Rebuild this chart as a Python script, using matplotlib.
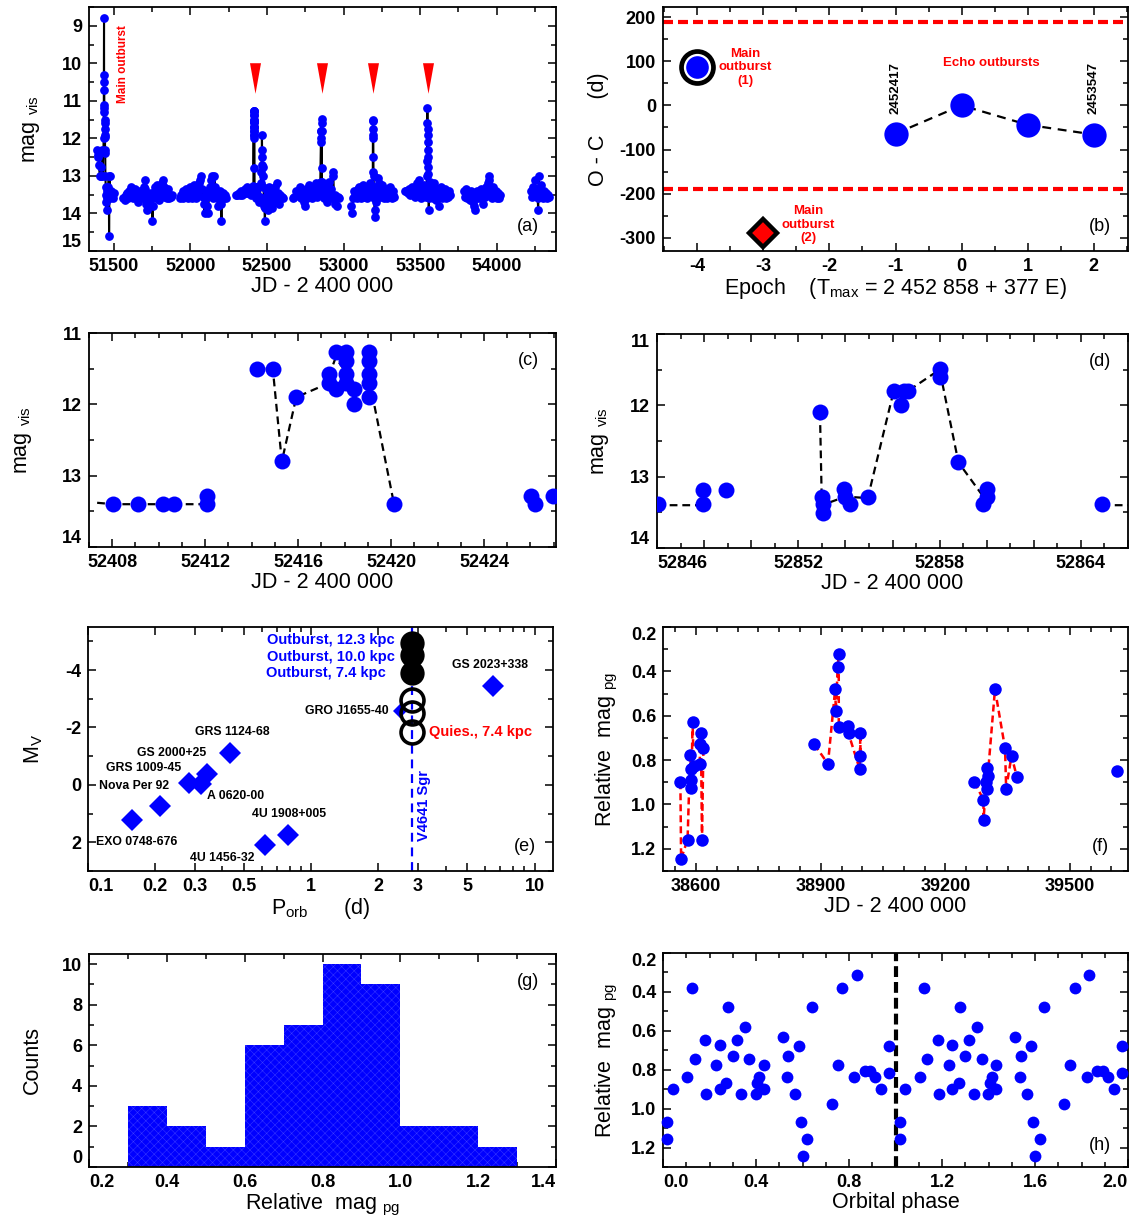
import numpy as np
import matplotlib
matplotlib.use('Agg')
import matplotlib.pyplot as plt
from matplotlib.ticker import MultipleLocator, FixedLocator, LogLocator, NullFormatter

plt.rcParams['font.family'] = ['Liberation Sans', 'DejaVu Sans']
plt.rcParams['mathtext.fontset'] = 'custom'
plt.rcParams['mathtext.rm'] = 'Liberation Sans'
plt.rcParams['mathtext.it'] = 'Liberation Sans:italic'
plt.rcParams['mathtext.bf'] = 'Liberation Sans:bold'
plt.rcParams['axes.unicode_minus'] = False
plt.rcParams['hatch.linewidth'] = 0.35

BLUE = '#0000ff'
RED = '#ff0000'

# ---------------- Panel (a) data: seasons of the visual light curve ----------------
s1_jd = [51392, 51396, 51401, 51405, 51410, 51416, 51420, 51425, 51428, 51436, 51438.0, 51438.5,
         51439.0, 51439.5, 51440.0, 51440.5, 51441.0, 51441.5, 51442.0, 51442.5, 51443.0, 51444,
         51445, 51446, 51447, 51449, 51451, 51453, 51455, 51457, 51460, 51463, 51466, 51469,
         51471, 51474, 51477, 51480, 51483, 51487, 51491, 51496, 51500]
s1_mag = [12.3, 12.5, 12.45, 12.7, 13.0, 12.75, 13.0, 12.3, 13.0, 12.0, 8.8, 10.3,
          10.5, 10.7, 11.1, 11.2, 11.3, 11.5, 11.6, 11.75, 11.9, 11.95,
          12.3, 12.4, 13.0, 13.3, 13.5, 13.7, 13.9, 13.6, 13.4, 13.55, 13.3, 13.0,
          14.6, 13.0, 13.5, 13.6, 13.4, 13.55, 13.5, 13.6, 13.45]
s2_jd = [51565, 51572, 51578, 51584, 51590, 51596, 51602, 51608, 51614, 51620, 51626, 51632,
         51638, 51644, 51650, 51656, 51662, 51668, 51674, 51680, 51686, 51692, 51698, 51703,
         51706, 51710, 51714, 51719, 51724, 51730, 51736, 51742, 51748, 51754, 51758, 51762,
         51768, 51774, 51780, 51786, 51792, 51798, 51804, 51810, 51816, 51822, 51828, 51834,
         51840, 51846, 51852, 51858, 51864, 51872, 51880]
s2_mag = [13.6, 13.55, 13.65, 13.5, 13.45, 13.6, 13.4, 13.55, 13.3, 13.45, 13.6, 13.5,
          13.35, 13.55, 13.6, 13.45, 13.7, 13.5, 13.4, 13.6, 13.5, 13.45, 13.3, 13.1,
          13.35, 13.6, 13.75, 13.9, 13.55, 13.7, 13.5, 13.45, 13.6, 14.2, 13.8, 13.5,
          13.3, 13.6, 13.45, 13.25, 13.5, 13.65, 13.4, 13.55, 13.2, 13.1, 13.3, 13.55,
          13.45, 13.6, 13.5, 13.35, 13.6, 13.55, 13.5]
s3_jd = [51932, 51938, 51944, 51950, 51956, 51962, 51968, 51974, 51980, 51986, 51992, 51998,
         52004, 52010, 52016, 52022, 52028, 52034, 52040, 52046, 52052, 52058, 52064, 52070,
         52076, 52082, 52088, 52094, 52100, 52106, 52112, 52117, 52122, 52128, 52134, 52140,
         52146, 52152, 52158, 52164, 52170, 52176, 52182, 52188, 52194, 52200, 52204, 52208,
         52214, 52220, 52226, 52232]
s3_mag = [13.6, 13.5, 13.55, 13.4, 13.6, 13.45, 13.5, 13.35, 13.55, 13.6, 13.45, 13.3,
          13.5, 13.6, 13.4, 13.25, 13.55, 13.45, 13.6, 13.3, 13.5, 13.2, 13.1, 13.0,
          13.35, 13.55, 13.75, 14.0, 13.6, 13.4, 13.8, 14.0, 13.5, 13.3, 13.1, 13.0,
          13.45, 13.6, 13.0, 13.3, 13.5, 13.6, 13.8, 13.5, 13.4, 13.75, 14.2, 13.6,
          13.45, 13.6, 13.5, 13.6]
s4_jd = [52300, 52308, 52316, 52324, 52332, 52340, 52348, 52356, 52364, 52372, 52380, 52388,
         52396, 52402, 52408.0, 52409.1, 52410.2, 52410.7, 52412.0, 52412.1, 52414.2, 52414.9,
         52415.3, 52415.9, 52417.3, 52417.35, 52417.6, 52417.65, 52418.0, 52418.05, 52418.1,
         52418.15, 52418.4, 52418.45, 52419.0, 52419.05, 52419.1, 52419.15, 52419.2, 52420.1,
         52426.0, 52426.2, 52426.9, 52432, 52438, 52444, 52450, 52455, 52460, 52464, 52466,
         52468, 52469, 52470, 52472, 52475, 52478, 52481, 52484, 52487, 52490, 52494, 52498,
         52502, 52506, 52510, 52514, 52518, 52522, 52526, 52530, 52535, 52540, 52545, 52550,
         52555, 52560, 52565, 52570, 52575, 52580, 52586, 52592, 52598, 52605]
s4_mag = [13.5, 13.5, 13.45, 13.5, 13.4, 13.5, 13.45, 13.35, 13.45, 13.3, 13.45, 13.35,
          13.5, 13.4, 13.4, 13.4, 13.4, 13.4, 13.28, 13.4, 11.5, 11.5,
          12.8, 11.9, 11.57, 11.7, 11.27, 11.79, 11.27, 11.39, 11.57,
          11.7, 11.79, 12.0, 11.27, 11.39, 11.57, 11.7, 11.9, 13.4,
          13.29, 13.4, 13.29, 13.6, 13.5, 13.3, 13.7, 13.55, 13.2, 12.9, 12.7,
          11.9, 12.3, 12.5, 12.75, 13.0, 13.3, 13.6, 13.8, 14.2, 13.85, 13.6, 13.4,
          13.7, 13.5, 13.9, 13.3, 13.6, 13.75, 13.45, 13.55, 13.85, 13.4, 13.6, 13.3,
          13.7, 13.5, 13.2, 13.6, 13.45, 13.75, 13.5, 13.6, 13.55, 13.6]
s5_jd = [52672, 52680, 52690, 52698, 52706, 52714, 52720, 52726, 52732, 52738, 52744, 52748,
         52752, 52758, 52764, 52770, 52776, 52782, 52788, 52794, 52800, 52806, 52812, 52818,
         52824, 52830, 52836, 52842, 52846.05, 52847.95, 52848.0, 52848.95, 52852.92, 52852.99,
         52853.0, 52853.07, 52853.95, 52854.0, 52854.2, 52854.95, 52856.05, 52856.38, 52856.47,
         52856.65, 52858.0, 52858.05, 52858.8, 52859.86, 52860.0, 52860.05, 52864.9, 52870,
         52876, 52882, 52888, 52894, 52900, 52906, 52912, 52918, 52924, 52930, 52934, 52938,
         52942, 52946, 52950, 52956, 52962, 52968]
s5_mag = [13.6, 13.55, 13.4, 13.45, 13.5, 13.3, 13.6, 13.45, 13.55, 13.4, 13.7, 13.8,
          13.5, 13.35, 13.6, 13.45, 13.25, 13.5, 13.4, 13.6, 13.3, 13.5, 13.45, 13.2,
          13.55, 13.4, 13.3, 13.5, 13.39, 13.19, 13.39, 13.19, 12.1, 13.29,
          13.39, 13.51, 13.17, 13.29, 13.39, 13.29, 11.8, 12.0, 11.8,
          11.8, 11.49, 11.6, 12.79, 13.39, 13.29, 13.17, 13.39, 13.5,
          13.6, 13.3, 13.45, 13.7, 13.4, 13.15, 13.55, 13.35, 13.6, 12.9, 13.0, 13.6,
          13.75, 13.5, 13.6, 13.8, 13.55, 13.6]
s6_jd = [53052, 53057, 53062, 53068, 53074, 53080, 53086, 53092, 53098, 53104, 53110, 53116,
         53122, 53128, 53134, 53140, 53146, 53152, 53158, 53164, 53170, 53176, 53182, 53188,
         53191, 53192, 53193, 53193.5, 53194, 53194.5, 53195, 53196, 53198, 53200, 53203, 53206,
         53210, 53214, 53218, 53222, 53226, 53230, 53236, 53242, 53248, 53254, 53260, 53266,
         53272, 53278, 53284, 53290, 53296, 53302, 53308, 53314, 53320, 53326, 53332]
s6_mag = [13.8, 14.0, 13.6, 13.4, 13.5, 13.45, 13.6, 13.35, 13.55, 13.3, 13.5, 13.6,
          13.4, 13.25, 13.55, 13.45, 13.3, 13.6, 13.4, 13.5, 13.2, 13.45, 13.35, 13.5,
          12.9, 11.5, 11.55, 11.75, 11.9, 12.0, 12.5, 13.0, 13.3, 13.6, 14.1, 13.9,
          13.7, 13.5, 13.3, 13.05, 13.4, 13.2, 13.55, 13.3, 13.5, 13.25, 13.45, 13.6,
          13.35, 13.5, 13.6, 13.4, 13.55, 13.3, 13.45, 13.6, 13.5, 13.4, 13.55]
s7_jd = [53402, 53410, 53418, 53426, 53434, 53442, 53450, 53458, 53466, 53474, 53480, 53486,
         53492, 53498, 53504, 53510, 53516, 53522, 53528, 53534, 53540, 53544, 53546, 53547,
         53547.5, 53548, 53548.5, 53549, 53549.5, 53550, 53551, 53552, 53554, 53556, 53558,
         53562, 53566, 53570, 53576, 53582, 53588, 53594, 53600, 53606, 53612, 53618, 53624,
         53630, 53636, 53642, 53648, 53654, 53660, 53666, 53672, 53680, 53688, 53696]
s7_mag = [13.4, 13.4, 13.45, 13.35, 13.5, 13.4, 13.3, 13.45, 13.55, 13.35, 13.2, 13.5,
          13.1, 13.4, 13.6, 13.3, 13.45, 13.25, 13.5, 13.4, 13.55, 13.0, 12.6, 11.2,
          11.6, 11.75, 11.9, 12.1, 12.3, 12.5, 12.75, 12.95, 13.3, 13.9, 13.6,
          13.4, 13.15, 13.5, 13.35, 13.6, 13.2, 13.5, 13.4, 13.65, 13.35, 13.55, 13.8,
          13.5, 13.3, 13.6, 13.45, 13.55, 13.35, 13.6, 13.5, 13.55, 13.4, 13.5]
s8_jd = [53788, 53794, 53800, 53806, 53812, 53818, 53824, 53830, 53836, 53842, 53848, 53854,
         53859, 53864, 53870, 53876, 53882, 53888, 53894, 53900, 53906, 53912, 53918, 53924,
         53930, 53936, 53942, 53948, 53952, 53956, 53962, 53968, 53974, 53980, 53986, 53992,
         53998, 54004, 54010, 54016, 54022]
s8_mag = [13.4, 13.55, 13.35, 13.6, 13.45, 13.5, 13.65, 13.4, 13.55, 13.7, 13.6, 13.8,
          13.9, 13.5, 13.4, 13.6, 13.45, 13.55, 13.35, 13.6, 13.5, 13.75, 13.4, 13.55,
          13.3, 13.5, 13.2, 13.1, 13.0, 13.35, 13.5, 13.6, 13.3, 13.45, 13.55, 13.4,
          13.6, 13.5, 13.45, 13.6, 13.5]
s9_jd = [54224, 54230, 54236, 54242, 54248, 54254, 54260, 54266, 54270, 54274, 54278, 54284,
         54290, 54296, 54302, 54308, 54314, 54320, 54326, 54332, 54338]
s9_mag = [13.4, 13.55, 13.3, 13.45, 13.1, 13.5, 13.35, 13.6, 13.9, 13.0, 13.4, 13.55,
          13.25, 13.5, 13.6, 13.4, 13.55, 13.45, 13.6, 13.5, 13.55]
echo_jd = [52421, 52858, 53193, 53548]
echo_mark_mag = 10.4

# ---------------- Panel (b) data ----------------
b_epoch_main1, b_oc_main1 = -4, 88
b_epoch_main2, b_oc_main2 = -3, -290
b_epoch_echo = [-1, 0, 1, 2]
b_oc_echo = [-64, 0, -44, -66]
b_limit = 190

# ---------------- Panel (c) data ----------------
c_jd = [52408.05, 52409.13, 52410.2, 52410.67, 52412.06, 52412.06, 52414.25, 52414.91, 52415.3,
        52415.92, 52417.31, 52417.31, 52417.61, 52417.61, 52418.08, 52418.08, 52418.08, 52418.08,
        52418.39, 52418.39, 52419.03, 52419.03, 52419.03, 52419.03, 52419.03, 52420.13,
        52426.02, 52426.2, 52426.95]
c_mag = [13.4, 13.4, 13.4, 13.4, 13.28, 13.4, 11.5, 11.5, 12.8,
         11.9, 11.57, 11.7, 11.27, 11.79, 11.27, 11.39, 11.57, 11.7,
         11.79, 12.0, 11.27, 11.39, 11.57, 11.7, 11.9, 13.4,
         13.29, 13.4, 13.29]
c_line_jd = [52407.35, 52408.05, 52409.13, 52410.2, 52410.67, 52412.06, np.nan, 52414.25, 52414.91,
             52415.3, 52415.92, 52417.2, 52417.61, 52418.08, 52418.39, 52419.03, 52420.13]
c_line_mag = [13.38, 13.4, 13.4, 13.4, 13.4, 13.4, np.nan, 11.5, 11.5,
              12.8, 11.9, 11.72, 11.35, 11.55, 11.85, 11.6, 13.4]

# ---------------- Panel (d) data ----------------
d_jd = [52846.05, 52847.95, 52847.95, 52848.95, 52852.92, 52852.99, 52853.03, 52853.07, 52853.95,
        52853.98, 52854.2, 52854.95, 52856.05, 52856.38, 52856.47, 52856.65, 52858.0, 52858.02,
        52858.8, 52859.86, 52860.0, 52860.02, 52864.9]
d_mag = [13.39, 13.19, 13.39, 13.19, 12.1, 13.29, 13.39, 13.51, 13.17,
         13.29, 13.39, 13.29, 11.8, 12.0, 11.8, 11.8, 11.49, 11.6,
         12.79, 13.39, 13.29, 13.17, 13.39]
d_line_jd = [52846.0, 52848.0, np.nan, 52852.92, 52853.0, 52854.0, 52854.95, 52856.05, 52856.65,
             52858.0, 52858.8, 52859.9, np.nan, 52864.9, 52866.0]
d_line_mag = [13.4, 13.4, np.nan, 12.1, 13.4, 13.28, 13.3, 11.8, 11.8,
              11.5, 12.8, 13.3, np.nan, 13.4, 13.4]

# ---------------- Panel (e) data ----------------
e_names = ['EXO 0748-676', 'Nova Per 92', 'GRS 1009-45', 'A 0620-00', 'GS 2000+25',
           'GRS 1124-68', '4U 1456-32', '4U 1908+005', 'GS 2023+338']
e_porb = [0.157, 0.210, 0.282, 0.321, 0.341, 0.431, 0.623, 0.786, 6.52]
e_mv = [1.21, 0.75, -0.07, -0.03, -0.39, -1.11, 2.10, 1.75, -3.44]
e_label_p = [0.165, 0.160, 0.178, 0.460, 0.237, 0.444, 0.401, 0.794, 6.35]
e_label_m = [1.98, 0.05, -0.58, 0.40, -1.11, -1.84, 2.53, 1.02, -4.18]
gro_name, gro_p, gro_m, gro_label_p = 'GRO J1655-40', 2.50, -2.58, 2.22
v4641_p = 2.82
v4641_out_m = [-4.96, -4.53, -3.89]
v4641_out_labels = ['Outburst, 12.3 kpc', 'Outburst, 10.0 kpc', 'Outburst, 7.4 kpc']
v4641_out_label_p = [2.36, 2.36, 2.16]
v4641_out_label_m = [-5.05, -4.47, -3.89]
v4641_quies_m = [-2.95, -2.49, -1.84]

# ---------------- Panel (f) data ----------------
f1_jd = [38561.9, 38563.6, 38579.2, 38585.3, 38587.9, 38588.0, 38588.1, 38591.3, 38593.9,
         38608.7, 38608.8, 38611.3, 38613.9, 38617.3]
f1_mag = [0.90, 1.245, 1.158, 0.777, 0.84, 0.889, 0.926, 0.63, 0.825,
          0.817, 0.727, 0.68, 1.158, 0.747]
f2_jd = [38884.4, 38917.3, 38934.7, 38936.4, 38940.7, 38943.3, 38943.4, 38966.7, 38966.8,
         38993.6, 38995.4, 38995.5]
f2_mag = [0.729, 0.817, 0.481, 0.579, 0.381, 0.321, 0.65, 0.647, 0.68,
          0.84, 0.68, 0.78]
f3_jd = [39270.2, 39291.9, 39292.0, 39298.8, 39300.5, 39300.6, 39302.3, 39319.6, 39343.9,
         39346.5, 39359.5, 39372.5]
f3_mag = [0.899, 0.979, 1.068, 0.899, 0.929, 0.837, 0.87, 0.481, 0.747,
          0.929, 0.78, 0.878]
f4_jd = [39614.4]
f4_mag = [0.847]

# ---------------- Panel (g) data ----------------
g_edges = [0.3, 0.4, 0.5, 0.6, 0.7, 0.8, 0.9, 1.0, 1.1, 1.2, 1.3]
g_counts = [3, 2, 1, 6, 7, 10, 9, 2, 2, 1]

# ---------------- Panel (h) data ----------------
h_phase = [0.019, 0.019, 0.043, 0.105, 0.124, 0.136, 0.181, 0.186, 0.229, 0.245, 0.245, 0.271,
           0.279, 0.299, 0.318, 0.336, 0.352, 0.372, 0.398, 0.406, 0.414, 0.434, 0.434, 0.515,
           0.538, 0.535, 0.566, 0.584, 0.592, 0.600, 0.620, 0.640, 0.726, 0.752, 0.771, 0.822,
           0.833, 0.868, 0.891, 0.912, 0.938, 0.974, 0.974]
h_mag = [1.068, 1.157, 0.90, 0.835, 0.378, 0.743, 0.647, 0.926, 0.777, 0.674, 0.90, 0.866,
         0.477, 0.729, 0.647, 0.926, 0.578, 0.746, 0.926, 0.869, 0.837, 0.777, 0.90, 0.630,
         0.729, 0.837, 0.926, 0.677, 1.068, 1.246, 1.157, 0.477, 0.974, 0.777, 0.378, 0.837,
         0.314, 0.809, 0.809, 0.837, 0.90, 0.677, 0.818]

# =====================================================================
W, H = 1133, 1218
fig = plt.figure(figsize=(W / 100, H / 100), dpi=100)


def ax_at(l, t, r, b):
    return fig.add_axes([l / W, 1 - b / H, (r - l) / W, (b - t) / H])


TICK_FS = 13
LAB_FS = 15.5
LET_FS = 13


def style(ax):
    for s in ax.spines.values():
        s.set_linewidth(1.3)
    ax.tick_params(which='both', direction='in', top=True, right=True, width=1.1,
                   labelsize=TICK_FS, pad=5)
    ax.tick_params(which='major', length=6)
    ax.tick_params(which='minor', length=3.5)


def bold_ticks(ax):
    for t in ax.get_xticklabels() + ax.get_yticklabels():
        t.set_fontweight('bold')


def letter(ax, s, x, y):
    ax.text(x, y, s, transform=ax.transAxes, fontsize=LET_FS, ha='center', va='center')


# ---------------- (a) ----------------
ax = ax_at(89, 7, 556, 251)
style(ax)
seasons = [(s1_jd, s1_mag), (s2_jd, s2_mag), (s3_jd, s3_mag), (s4_jd, s4_mag), (s5_jd, s5_mag),
           (s6_jd, s6_mag), (s7_jd, s7_mag), (s8_jd, s8_mag), (s9_jd, s9_mag)]
for jd, mg in seasons:
    ax.plot(jd, mg, '-', color='black', lw=1.5, zorder=2)
for jd, mg in seasons:
    ax.plot(jd, mg, 'o', color=BLUE, ms=6.3, mec=BLUE, mew=0, zorder=3)
tri = [(-0.18, 0.5), (0.18, 0.5), (0.0, -0.5), (-0.18, 0.5)]
ax.plot(echo_jd, [echo_mark_mag] * len(echo_jd), linestyle='none', marker=tri, ms=22,
        color=RED, mec=RED, mew=0, zorder=4)
ax.text(51560, 10.03, 'Main outburst', rotation=90, color=RED, fontsize=8.5,
        fontweight='bold', ha='center', va='center')
ax.set_xlim(51340, 54386)
ax.set_ylim(15.0, 8.5)
ax.set_xticks([51500, 52000, 52500, 53000, 53500, 54000])
ax.set_xticklabels(['51500', '52000', '52500', '53000', '53500', '54000'])
ax.xaxis.set_minor_locator(MultipleLocator(250))
ax.set_yticks([9, 10, 11, 12, 13, 14, 15])
ax.set_yticklabels(['9', '10', '11', '12', '13', '14', '15'])
ax.yaxis.set_minor_locator(MultipleLocator(0.5))
ax.get_yticklabels()[-1].set_va('bottom')
ax.set_xlabel('JD - 2 400 000', fontsize=LAB_FS, labelpad=1)
ax.set_ylabel(r'mag $_{\rm vis}$', fontsize=LAB_FS, labelpad=14)
bold_ticks(ax)
letter(ax, '(a)', 0.94, 0.1)

# ---------------- (b) ----------------
ax = ax_at(663, 7, 1128, 251)
style(ax)
ax.axhline(b_limit, color=RED, lw=3.0, dashes=(2.4, 1.2), zorder=1)
ax.axhline(-b_limit, color=RED, lw=3.0, dashes=(2.4, 1.2), zorder=1)
ax.plot(b_epoch_echo, b_oc_echo, color='black', lw=1.6, dashes=(4, 3), zorder=2)
ax.plot(b_epoch_echo, b_oc_echo, 'o', color=BLUE, ms=17.5, mew=0, zorder=3)
ax.plot([b_epoch_main1], [b_oc_main1], 'o', mfc='none', mec='black', ms=23, mew=3.4, zorder=3)
ax.plot([b_epoch_main1], [b_oc_main1], 'o', color=BLUE, ms=17.5, mec='white', mew=1.2, zorder=4)
ax.plot([b_epoch_main2], [b_oc_main2], 'D', color=RED, ms=14, mec='black', mew=3.2, zorder=4)
ax.text(-3.27, 86, 'Main\noutburst\n(1)', color=RED, fontsize=9.5, fontweight='bold',
        ha='center', va='center', linespacing=1.2)
ax.text(-2.32, -270, 'Main\noutburst\n(2)', color=RED, fontsize=9.5, fontweight='bold',
        ha='center', va='center', linespacing=1.2)
ax.text(0.45, 96, 'Echo outbursts', color=RED, fontsize=9.5, fontweight='bold',
        ha='center', va='center')
ax.text(-1, 40, '2452417', rotation=90, fontsize=9.5, fontweight='bold', ha='center', va='center')
ax.text(2, 40, '2453547', rotation=90, fontsize=9.5, fontweight='bold', ha='center', va='center')
ax.set_xlim(-4.52, 2.52)
ax.set_ylim(-330, 223)
ax.set_xticks([-4, -3, -2, -1, 0, 1, 2])
ax.set_xticklabels(['-4', '-3', '-2', '-1', '0', '1', '2'])
ax.xaxis.set_minor_locator(MultipleLocator(0.5))
ax.set_yticks([-300, -200, -100, 0, 100, 200])
ax.set_yticklabels(['-300', '-200', '-100', '0', '100', '200'])
ax.yaxis.set_minor_locator(MultipleLocator(50))
ax.set_xlabel(r'Epoch    (T$_{\rm max}$ = 2 452 858 + 377 E)', fontsize=LAB_FS, labelpad=1)
ax.set_ylabel('O - C      (d)', fontsize=LAB_FS, labelpad=8)
bold_ticks(ax)
letter(ax, '(b)', 0.94, 0.1)

# ---------------- (c) ----------------
ax = ax_at(89, 333, 556, 547)
style(ax)
ax.plot(c_line_jd, c_line_mag, color='black', lw=1.6, dashes=(3.5, 2.2), zorder=2)
ax.plot(c_jd, c_mag, 'o', color=BLUE, ms=11.5, mew=0, zorder=3)
ax.set_xlim(52407.0, 52427.1)
ax.set_ylim(14.0, 11.0)
ax.set_xticks([52408, 52412, 52416, 52420, 52424])
ax.set_xticklabels(['52408', '52412', '52416', '52420', '52424'])
ax.xaxis.set_minor_locator(MultipleLocator(1))
ax.set_yticks([11, 12, 13, 14])
ax.set_yticklabels(['11', '12', '13', '14'])
ax.yaxis.set_minor_locator(MultipleLocator(0.5))
ax.get_yticklabels()[-1].set_va('bottom')
ax.set_xlabel('JD - 2 400 000', fontsize=LAB_FS, labelpad=1)
ax.set_ylabel(r'mag $_{\rm vis}$', fontsize=LAB_FS, labelpad=20)
bold_ticks(ax)
letter(ax, '(c)', 0.94, 0.87)

# ---------------- (d) ----------------
ax = ax_at(657, 334, 1128, 548)
style(ax)
ax.plot(d_line_jd, d_line_mag, color='black', lw=1.6, dashes=(3.5, 2.2), zorder=2)
ax.plot(d_jd, d_mag, 'o', color=BLUE, ms=11.5, mew=0, zorder=3)
ax.set_xlim(52846.0, 52866.0)
ax.set_ylim(14.0, 11.0)
d_major = [52846, 52848, 52850, 52852, 52854, 52856, 52858, 52860, 52862, 52864, 52866]
ax.set_xticks(d_major)
ax.set_xticklabels([str(v) if (v - 52846) % 6 == 0 else '' for v in d_major])
ax.xaxis.set_minor_locator(MultipleLocator(1))
ax.get_xticklabels()[0].set_ha('left')
ax.set_yticks([11, 12, 13, 14])
ax.set_yticklabels(['11', '12', '13', '14'])
ax.yaxis.set_minor_locator(MultipleLocator(0.5))
ax.get_yticklabels()[-1].set_va('bottom')
ax.get_yticklabels()[0].set_va('top')
ax.set_xlabel('JD - 2 400 000', fontsize=LAB_FS, labelpad=1)
ax.set_ylabel(r'mag $_{\rm vis}$', fontsize=LAB_FS, labelpad=14)
bold_ticks(ax)
letter(ax, '(d)', 0.94, 0.87)

# ---------------- (e) ----------------
ax = ax_at(88, 627, 553, 871)
style(ax)
ax.set_xscale('log')
ax.axvline(v4641_p, color=BLUE, lw=1.6, dashes=(4, 2.6), zorder=1)
ax.plot(e_porb, e_mv, 'D', color=BLUE, ms=11.5, mew=0, zorder=3)
ax.plot([gro_p], [gro_m], 'D', color=BLUE, ms=7, mew=0, zorder=3)
ax.plot([v4641_p] * 3, v4641_out_m, 'o', color='black', ms=17.5, mew=0, zorder=4)
ax.plot([v4641_p] * 3, v4641_quies_m, 'o', mfc='none', mec='black', ms=16.5, mew=2.6, zorder=4)
for nm, px, pm in zip(e_names, e_label_p, e_label_m):
    ax.text(px, pm, nm, fontsize=8.8, fontweight='bold', ha='center', va='center')
ax.text(gro_label_p, gro_m, gro_name, fontsize=8.8, fontweight='bold', ha='right', va='center')
for lab, px, pm in zip(v4641_out_labels, v4641_out_label_p, v4641_out_label_m):
    ax.text(px, pm, lab, color=BLUE, fontsize=10.5, fontweight='bold', ha='right', va='center')
ax.text(3.38, v4641_quies_m[-1], 'Quies., 7.4 kpc', color=RED, fontsize=10.5, fontweight='bold',
        ha='left', va='center')
ax.text(3.21, 0.72, 'V4641 Sgr', rotation=90, color=BLUE, fontsize=10.5, fontweight='bold',
        ha='center', va='center')
ax.set_xlim(0.1, 12.1)
ax.set_ylim(3.0, -5.5)
e_xt = [0.1, 0.2, 0.3, 0.5, 1, 2, 3, 5, 10]
ax.xaxis.set_major_locator(FixedLocator(e_xt))
ax.xaxis.set_minor_locator(LogLocator(base=10, subs=np.arange(2, 10)))
ax.xaxis.set_minor_formatter(NullFormatter())
ax.set_xticklabels(['0.1', '0.2', '0.3', '0.5', '1', '2', '3', '5', '10'])
ax.get_xticklabels()[0].set_ha('left')
ax.set_yticks([-4, -2, 0, 2])
ax.set_yticklabels(['-4', '-2', '0', '2'])
ax.yaxis.set_minor_locator(MultipleLocator(1))
ax.set_xlabel(r'P$_{\rm orb}$      (d)', fontsize=LAB_FS, labelpad=1)
ax.set_ylabel(r'M$_{\rm V}$', fontsize=LAB_FS, labelpad=14)
bold_ticks(ax)
letter(ax, '(e)', 0.94, 0.1)

# ---------------- (f) ----------------
ax = ax_at(663, 627, 1128, 871)
style(ax)
for jd, mg in [(f1_jd, f1_mag), (f2_jd, f2_mag), (f3_jd, f3_mag), (f4_jd, f4_mag)]:
    ax.plot(jd, mg, color=RED, lw=1.8, dashes=(2.8, 1.6), zorder=2)
for jd, mg in [(f1_jd, f1_mag), (f2_jd, f2_mag), (f3_jd, f3_mag), (f4_jd, f4_mag)]:
    ax.plot(jd, mg, 'o', color=BLUE, ms=9.0, mew=0, zorder=3)
ax.set_xlim(38520, 39640)
ax.set_ylim(1.3, 0.2)
ax.set_xticks([38600, 38900, 39200, 39500])
ax.set_xticklabels(['38600', '38900', '39200', '39500'])
ax.xaxis.set_minor_locator(MultipleLocator(50))
ax.set_yticks([0.2, 0.4, 0.6, 0.8, 1.0, 1.2])
ax.set_yticklabels(['0.2', '0.4', '0.6', '0.8', '1.0', '1.2'])
ax.yaxis.set_minor_locator(MultipleLocator(0.1))
ax.get_yticklabels()[0].set_va('top')
ax.set_xlabel('JD - 2 400 000', fontsize=LAB_FS, labelpad=1)
ax.set_ylabel(r'Relative  mag $_{\rm pg}$', fontsize=LAB_FS, labelpad=8)
bold_ticks(ax)
letter(ax, '(f)', 0.94, 0.1)

# ---------------- (g) ----------------
ax = ax_at(89, 954, 556, 1167)
style(ax)
ax.bar(g_edges[:-1], g_counts, width=np.diff(g_edges), align='edge', color=BLUE,
       edgecolor='#3a3aff', linewidth=0.0, hatch='xxxx', zorder=2)
ax.set_xlim(0.2, 1.4)
ax.set_ylim(0, 10.5)
ax.set_xticks([0.2, 0.4, 0.6, 0.8, 1.0, 1.2, 1.4])
ax.set_xticklabels(['0.2', '0.4', '0.6', '0.8', '1.0', '1.2', '1.4'])
ax.xaxis.set_minor_locator(MultipleLocator(0.1))
ax.get_xticklabels()[0].set_ha('left')
ax.get_xticklabels()[-1].set_ha('right')
ax.set_yticks([0, 2, 4, 6, 8, 10])
ax.set_yticklabels(['0', '2', '4', '6', '8', '10'])
ax.yaxis.set_minor_locator(MultipleLocator(1))
ax.get_yticklabels()[0].set_va('bottom')
ax.set_xlabel(r'Relative  mag $_{\rm pg}$', fontsize=LAB_FS, labelpad=1)
ax.set_ylabel('Counts', fontsize=LAB_FS, labelpad=14)
bold_ticks(ax)
letter(ax, '(g)', 0.94, 0.87)

# ---------------- (h) ----------------
ax = ax_at(663, 953, 1128, 1167)
style(ax)
ax.axvline(1.0, color='black', lw=3.0, dashes=(2.6, 1.2), zorder=1)
ax.plot(h_phase, h_mag, 'o', color=BLUE, ms=8.5, mew=0, zorder=3, clip_on=False)
ax.plot(np.array(h_phase) + 1.0, h_mag, 'o', color=BLUE, ms=8.5, mew=0, zorder=3, clip_on=False)
ax.set_xlim(0.0, 2.0)
ax.set_ylim(1.3, 0.2)
ax.set_xticks([0.0, 0.4, 0.8, 1.2, 1.6, 2.0])
ax.set_xticklabels(['0.0', '0.4', '0.8', '1.2', '1.6', '2.0'])
ax.xaxis.set_minor_locator(MultipleLocator(0.1))
ax.get_xticklabels()[0].set_ha('left')
ax.get_xticklabels()[-1].set_ha('right')
ax.set_yticks([0.2, 0.4, 0.6, 0.8, 1.0, 1.2])
ax.set_yticklabels(['0.2', '0.4', '0.6', '0.8', '1.0', '1.2'])
ax.yaxis.set_minor_locator(MultipleLocator(0.1))
ax.get_yticklabels()[0].set_va('top')
ax.set_xlabel('Orbital phase', fontsize=LAB_FS, labelpad=1)
ax.set_ylabel(r'Relative  mag $_{\rm pg}$', fontsize=LAB_FS, labelpad=8)
bold_ticks(ax)
letter(ax, '(h)', 0.94, 0.1)

fig.savefig('out.png', dpi=100)
